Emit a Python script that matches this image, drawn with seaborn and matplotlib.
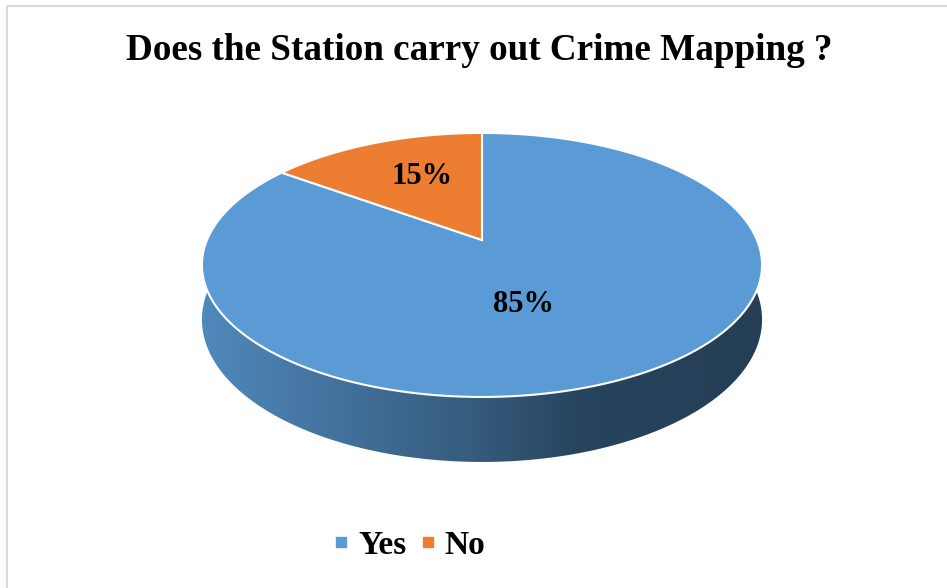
import numpy as np
import seaborn as sns
import matplotlib
matplotlib.use('Agg')
import matplotlib.pyplot as plt
from matplotlib.patches import Polygon
from matplotlib.lines import Line2D
from matplotlib.colors import to_rgb

# data
labels = ['Yes', 'No']
values = [85, 15]
colors = ['#5B9BD5', '#ED7D31']
title = 'Does the Station carry out Crime Mapping ?'

sns.set_style('white')
plt.rcParams['font.family'] = ['Liberation Serif', 'DejaVu Serif']
plt.rcParams['text.color'] = 'black'

fig = plt.figure(figsize=(9.47, 5.88), dpi=100)
ax = fig.add_axes([0, 0, 1, 1])
ax.set_xlim(0, 947)
ax.set_ylim(588, 0)
ax.axis('off')

# perspective settings for the 3d-looking pie (pixel space)
cx, cy = 482, 240
a, b, k, h = 275, 127.3, 0.189, 52.7


def proj(theta, r=1.0, z=0.0):
    t = np.radians(theta)
    u = r * np.cos(t)
    v = r * np.sin(t)
    w = 1 + k * v
    return cx + a * u / w, cy - b * v / w + h * z / w


# slice angles, clockwise from 12 o'clock
fracs = np.array(values) / np.sum(values)
ends = 90 - 360 * np.cumsum(fracs)
starts = np.concatenate([[90], ends[:-1]])

# side wall (front half only, angles 180..360)
shade_x = [202, 350, 480, 580, 762]
shade_f = [0.88, 0.72, 0.58, 0.44, 0.40]
xs = np.linspace(195, 770, 400)
ramp = np.interp(xs, shade_x, shade_f)
for s, e, c in zip(starts, ends, colors):
    lo, hi = min(s, e), max(s, e)
    for shift in (-360, 0, 360):
        a0 = max(lo + shift, 180)
        a1 = min(hi + shift, 360)
        if a1 <= a0:
            continue
        th = np.linspace(a0, a1, 200)
        top = np.array([proj(t) for t in th])
        bot = np.array([proj(t, z=1.0) for t in th[::-1]])
        poly = Polygon(np.vstack([top, bot]), closed=True, facecolor='none',
                       edgecolor='none')
        ax.add_patch(poly)
        rgb = np.array(to_rgb(c))
        img = ramp[None, :, None] * rgb[None, None, :]
        im = ax.imshow(img, extent=(195, 770, 470, 230), aspect='auto',
                       interpolation='bilinear', zorder=1)
        im.set_clip_path(poly)

# top face
handles = []
for s, e, c, lab in zip(starts, ends, colors, labels):
    th = np.linspace(s, e, 300)
    pts = [proj(0, r=0.0)] + [proj(t) for t in th]
    ax.add_patch(Polygon(pts, closed=True, facecolor=c, edgecolor='white',
                         linewidth=1.5, zorder=2))
    handles.append(Line2D([], [], marker='s', linestyle='none', color=c,
                          markersize=7.5, label=lab))

# percentage labels
label_pos = [(524, 304), (422, 176)]
for (x, y), f in zip(label_pos, fracs):
    ax.text(x, y, f'{f * 100:.0f}%', ha='center', va='center',
            fontsize=22, fontweight='bold', color='black', zorder=3)

ax.text(479, 51, title, ha='center', va='center', fontsize=26.7,
        fontweight='bold', color='black')

ax.legend(handles=handles, loc='center', bbox_to_anchor=(410 / 947, 1 - 545 / 588),
          ncol=2, frameon=False, prop={'size': 24, 'weight': 'bold'},
          labelcolor='black',
          handlelength=0.4, handletextpad=0.3, columnspacing=0.45)

# light frame
ax.add_line(Line2D([7, 7, 947], [588, 6, 6], color='#d9d9d9', linewidth=1.5))

fig.savefig('out.png', dpi=100)
